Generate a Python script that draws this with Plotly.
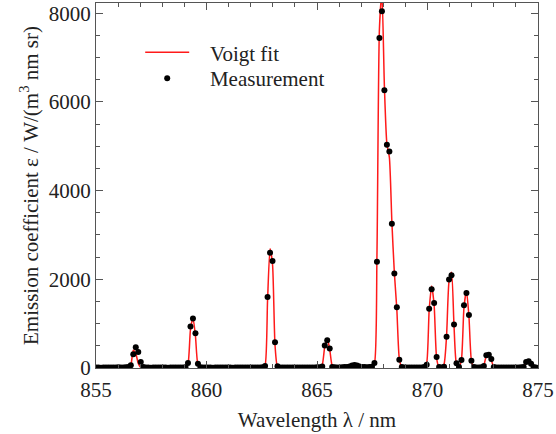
import plotly.graph_objects as go

# Spectral sampling grid (nm)
wavelength_nm = [
    855.0, 855.1125, 855.225, 855.3375, 855.45, 855.5625, 855.675, 855.7875,
    855.9, 856.0125, 856.125, 856.2375, 856.35, 856.4625, 856.575, 856.6875,
    856.8, 856.9125, 857.025, 857.1375, 857.25, 857.3625, 857.475, 857.5875,
    857.7, 857.8125, 857.925, 858.0375, 858.15, 858.2625, 858.375, 858.4875,
    858.6, 858.7125, 858.825, 858.9375, 859.05, 859.1625, 859.275, 859.3875,
    859.5, 859.6125, 859.725, 859.8375, 859.95, 860.0625, 860.175, 860.2875,
    860.4, 860.5125, 860.625, 860.7375, 860.85, 860.9625, 861.075, 861.1875,
    861.3, 861.4125, 861.525, 861.6375, 861.75, 861.8625, 861.975, 862.0875,
    862.2, 862.3125, 862.425, 862.5375, 862.65, 862.7625, 862.875, 862.9875,
    863.1, 863.2125, 863.325, 863.4375, 863.55, 863.6625, 863.775, 863.8875,
    864.0, 864.1125, 864.225, 864.3375, 864.45, 864.5625, 864.675, 864.7875,
    864.9, 865.0125, 865.125, 865.2375, 865.35, 865.4625, 865.575, 865.6875,
    865.8, 865.9125, 866.025, 866.1375, 866.25, 866.3625, 866.475, 866.5875,
    866.7, 866.8125, 866.925, 867.0375, 867.15, 867.2625, 867.375, 867.4875,
    867.6, 867.7125, 867.825, 867.9375, 868.05, 868.1625, 868.275, 868.3875,
    868.5, 868.6125, 868.725, 868.8375, 868.95, 869.0625, 869.175, 869.2875,
    869.4, 869.5125, 869.625, 869.7375, 869.85, 869.9625, 870.075, 870.1875,
    870.3, 870.4125, 870.525, 870.6375, 870.75, 870.8625, 870.975, 871.0875,
    871.2, 871.3125, 871.425, 871.5375, 871.65, 871.7625, 871.875, 871.9875,
    872.1, 872.2125, 872.325, 872.4375, 872.55, 872.6625, 872.775, 872.8875,
    873.0, 873.1125, 873.225, 873.3375, 873.45, 873.5625, 873.675, 873.7875,
    873.9, 874.0125, 874.125, 874.2375, 874.35, 874.4625, 874.575, 874.6875,
    874.8, 874.9125,
]

# Measured emission coefficient, W/(m^3 nm sr)
measured = [
    10, 12, 8, 10, 14, 9, 11, 10,
    12, 15, 13, 10, 18, 20, 60, 310,
    468, 362, 135, 20, 12, 10, 8, 10,
    11, 9, 10, 12, 10, 8, 10, 11,
    10, 9, 12, 10, 15, 110, 935, 1115,
    785, 95, 15, 10, 9, 11, 10, 8,
    10, 12, 10, 9, 10, 11, 10, 8,
    10, 12, 11, 9, 10, 10, 12, 10,
    9, 11, 10, 15, 45, 1600, 2600, 2415,
    580, 40, 10, 12, 10, 9, 11, 10,
    12, 10, 9, 10, 11, 10, 12, 10,
    11, 15, 15, 35, 505, 625, 440, 25,
    15, 12, 14, 18, 20, 25, 35, 55,
    65, 55, 35, 25, 20, 18, 20, 30,
    110, 2393, 7443, 8043, 6263, 5035, 4884, 3255,
    2132, 1369, 187, 20, 12, 10, 11, 9,
    10, 12, 10, 11, 20, 74, 1335, 1773,
    1466, 250, 25, 12, 30, 705, 1998, 2090,
    983, 105, 25, 180, 1413, 1690, 1196, 165,
    20, 12, 10, 15, 45, 285, 300, 205,
    25, 10, 12, 9, 10, 11, 10, 12,
    10, 9, 11, 15, 25, 135, 150, 95,
    20, 10,
]

# Voigt profile fit evaluated on the same grid
voigt_fit = [
    0, 0, 0, 0, 0, 0, 0, 0,
    0, 0, 0, 0, 0, 5, 60, 400,
    330, 100, 10, 0, 0, 0, 0, 0,
    0, 0, 0, 0, 0, 0, 0, 0,
    0, 0, 0, 0, 5, 90, 870, 1135,
    720, 70, 3, 0, 0, 0, 0, 0,
    0, 0, 0, 0, 0, 0, 0, 0,
    0, 0, 0, 0, 0, 0, 0, 0,
    0, 0, 0, 3, 60, 1520, 2690, 2340,
    520, 20, 0, 0, 0, 0, 0, 0,
    0, 0, 0, 0, 0, 0, 0, 0,
    0, 0, 5, 70, 480, 665, 420, 50,
    3, 5, 8, 12, 18, 25, 35, 50,
    55, 50, 38, 30, 28, 30, 35, 50,
    110, 2550, 7650, 8450, 6350, 5050, 4750, 3300,
    2150, 1320, 210, 15, 0, 0, 0, 0,
    0, 0, 0, 0, 10, 110, 1300, 1850,
    1420, 220, 10, 5, 90, 720, 1960, 2160,
    950, 80, 15, 200, 1360, 1740, 1160, 160,
    8, 0, 0, 8, 60, 280, 335, 175,
    25, 2, 0, 0, 0, 0, 0, 0,
    0, 0, 0, 3, 25, 130, 180, 90,
    12, 0,
]

FONT = "Liberation Serif"
TEXT = "#222222"
AXIS = "#555555"
PAD = "\u00a0\u00a0\u00a0"  # gap between legend symbol and label

fig = go.Figure()

fig.add_trace(go.Scatter(
    x=wavelength_nm, y=voigt_fit, mode="lines", name=PAD + "Voigt fit",
    line=dict(color="#ff1a1a", width=1.5, shape="spline", smoothing=0.6),
    legend="legend",
))
fig.add_trace(go.Scatter(
    x=wavelength_nm, y=measured, mode="markers", name=PAD + "Measurement",
    marker=dict(color="black", size=6),
    legend="legend2",
))

axis_common = dict(
    showline=True, linecolor=AXIS, linewidth=1, mirror="ticks",
    ticks="inside", ticklen=7, tickcolor=AXIS, tickwidth=1,
    showgrid=False, zeroline=False,
    tickfont=dict(family=FONT, size=21, color=TEXT),
)

fig.update_xaxes(
    range=[855, 875], tick0=855, dtick=5,
    minor=dict(ticks="inside", ticklen=4, dtick=1, tickcolor=AXIS, showgrid=False),
    ticklabeloverflow="allow", ticklabelstandoff=3,
    title=dict(text="Wavelength λ / nm", font=dict(family=FONT, size=21, color=TEXT), standoff=11),
    **axis_common,
)
fig.update_yaxes(
    range=[0, 8230], tick0=0, dtick=2000,
    minor=dict(ticks="inside", ticklen=4, dtick=500, tickcolor=AXIS, showgrid=False),
    title=dict(text="Emission coefficient ε / W/(m<sup>3</sup> nm sr)",
               font=dict(family=FONT, size=21, color=TEXT), standoff=4),
    **axis_common,
)

legend_common = dict(
    xanchor="left", yanchor="top",
    bgcolor="rgba(0,0,0,0)", borderwidth=0,
    font=dict(family=FONT, size=21, color=TEXT),
    itemwidth=44,
)

fig.update_layout(
    width=556, height=434,
    margin=dict(l=96, r=15, t=2, b=66),
    paper_bgcolor="white", plot_bgcolor="white",
    showlegend=True,
    legend=dict(x=0.10, y=0.92, **legend_common),
    legend2=dict(x=0.10, y=0.849, **legend_common),
)

fig.write_html("out.html")
